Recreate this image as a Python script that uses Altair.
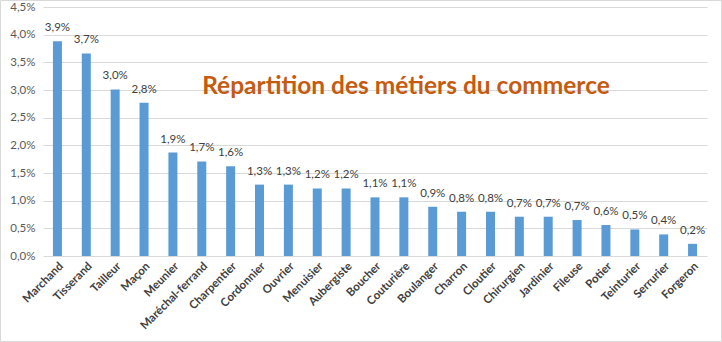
import altair as alt
import pandas as pd

metiers = ["Marchand", "Tisserand", "Tailleur", "Maçon", "Meunier", "Maréchal-ferrand",
           "Charpentier", "Cordonnier", "Ouvrier", "Menuisier", "Aubergiste", "Boucher",
           "Couturière", "Boulanger", "Charron", "Cloutier", "Chirurgien", "Jardinier",
           "Fileuse", "Potier", "Teinturier", "Serrurier", "Forgeron"]
parts = [0.0388, 0.0366, 0.0301, 0.0277, 0.0187, 0.0171, 0.0162, 0.0129, 0.0129, 0.0122,
         0.0122, 0.0106, 0.0106, 0.0089, 0.0080, 0.0080, 0.0071, 0.0071, 0.0065, 0.0056,
         0.0048, 0.0039, 0.0022]
y_ticks = [0, 0.005, 0.01, 0.015, 0.02, 0.025, 0.03, 0.035, 0.04, 0.045]

df = pd.DataFrame({"metier": metiers, "part": parts})

FONT = "Lato"
W, H = 664, 249

base = alt.Chart(df).encode(
    x=alt.X("metier:N", sort=metiers, title=None,
            scale=alt.Scale(paddingInner=0, paddingOuter=0),
            axis=alt.Axis(labelAngle=-45, labelFont=FONT, labelFontWeight="bold",
                          labelFontSize=11.5, labelColor="#404040", ticks=False,
                          domain=False, labelPadding=4, labelOverlap=False)),
    y=alt.Y("part:Q", title=None,
            scale=alt.Scale(domain=[0, 0.045], nice=False),
            axis=alt.Axis(values=y_ticks, labelExpr="replace(format(datum.value, '.1%'), '.', ',')",
                          labelFont=FONT, labelFontSize=11.5, labelColor="#595959",
                          ticks=False, domain=False, gridColor="#d9d9d9",
                          labelPadding=8)),
)

bars = base.mark_bar(size=9, color="#5B9BD5")
labels = base.transform_calculate(
    lab="replace(format(datum.part, '.1%'), '.', ',')"
).mark_text(dy=-13, font=FONT, fontSize=11.5, color="#404040").encode(text="lab:N")

border = alt.Chart(pd.DataFrame({"k": [0]})).mark_rect(
    fill=None, stroke="#d9d9d9", strokeWidth=1
).encode(x=alt.value(-42.5), x2=alt.value(W + 14.5), y=alt.value(-6.5), y2=alt.value(H + 85.5))

chart = alt.layer(bars, labels, border).properties(
    width=W, height=H,
    title=alt.TitleParams(text="Répartition des métiers du commerce", anchor="middle",
                          dx=31, offset=-99, fontSize=24.5, font=FONT, fontWeight="bold",
                          color="#C55A11"),
    autosize=alt.AutoSizeParams(type="none"),
    padding={"left": 43, "top": 7, "right": 15, "bottom": 86},
).configure_view(stroke=None)

chart.save("out.html", embed_options={"renderer": "svg", "actions": False})
